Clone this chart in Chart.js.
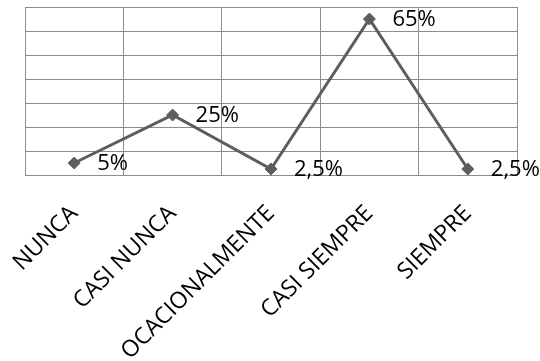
<!DOCTYPE html>
<html>
<head>
<meta charset="utf-8">
<script src="https://cdn.jsdelivr.net/npm/chart.js@4/dist/chart.umd.min.js"></script>
<style>
  html, body { margin: 0; padding: 0; background: #ffffff; }
  #wrap { width: 540px; height: 361px; position: relative; }
</style>
</head>
<body>
<div id="wrap"><canvas id="chart"></canvas></div>
<script>
// Frequency of responses, in percent
const categories = ['NUNCA', 'CASI NUNCA', 'OCACIONALMENTE', 'CASI SIEMPRE', 'SIEMPRE'];
const percentages = [5, 25, 2.5, 65, 2.5];
const yMin = 0;
const yMax = 70;
const yStep = 10;

const LINE_COLOR = '#5d5d5d';
const GRID_COLOR = '#8c8c8c';
const FONT = '"Open Sans", "Liberation Sans", sans-serif';

// Percent format with a decimal comma (2,5%)
function formatPercent(v) {
  return String(v).replace('.', ',') + '%';
}

// Value labels written to the right of each marker
const valueLabels = {
  id: 'valueLabels',
  afterDatasetsDraw(chart) {
    const ctx = chart.ctx;
    const meta = chart.getDatasetMeta(0);
    ctx.save();
    ctx.font = '22px ' + FONT;
    ctx.fillStyle = '#000000';
    ctx.textAlign = 'left';
    ctx.textBaseline = 'middle';
    meta.data.forEach((pt, i) => {
      ctx.fillText(formatPercent(percentages[i]), pt.x + 23, pt.y + 1);
    });
    ctx.restore();
  }
};

new Chart(document.getElementById('chart'), {
  type: 'line',
  data: {
    labels: categories,
    datasets: [{
      data: percentages,
      borderColor: LINE_COLOR,
      borderWidth: 3,
      backgroundColor: LINE_COLOR,
      pointStyle: 'rectRot',
      pointRadius: 6,
      pointBackgroundColor: LINE_COLOR,
      pointBorderColor: LINE_COLOR,
      pointBorderWidth: 1,
      tension: 0
    }]
  },
  options: {
    responsive: true,
    maintainAspectRatio: false,
    animation: false,
    layout: { padding: { top: 6, right: 23, left: 0, bottom: 0 } },
    plugins: {
      legend: { display: false },
      tooltip: { enabled: false }
    },
    scales: {
      x: {
        offset: true,
        grid: {
          offset: true,
          color: GRID_COLOR,
          lineWidth: 1,
          drawTicks: false
        },
        border: { color: GRID_COLOR, width: 1 },
        ticks: {
          color: '#000000',
          font: { family: FONT, size: 23 },
          maxRotation: 45,
          minRotation: 45,
          padding: 25,
          autoSkip: false
        },
        afterFit(scale) {
          // rotated labels may overhang the left edge; keep the plot flush with the y axis
          scale.height = 186;
          scale.paddingLeft = 0;
          scale.paddingRight = 0;
        }
      },
      y: {
        min: yMin,
        max: yMax,
        ticks: { stepSize: yStep, display: false },
        grid: { color: GRID_COLOR, lineWidth: 1, drawTicks: false },
        border: { color: GRID_COLOR, width: 1 },
        afterFit(scale) { scale.width = 25; }
      }
    }
  },
  plugins: [valueLabels]
});
</script>
</body>
</html>
